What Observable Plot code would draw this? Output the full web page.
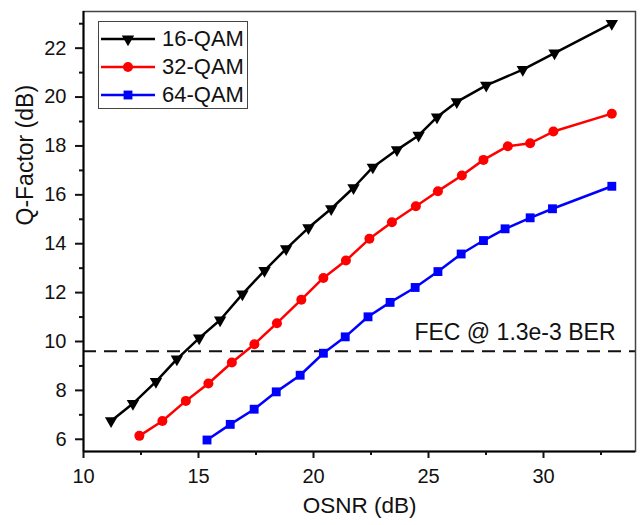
<!DOCTYPE html>
<html>
<head>
<meta charset="utf-8">
<script src="https://cdn.jsdelivr.net/npm/d3@7"></script>
<script src="https://cdn.jsdelivr.net/npm/@observablehq/plot@0.6"></script>
<style>
  html, body { margin: 0; padding: 0; background: #fff; }
  #wrap { position: relative; width: 643px; height: 525px; font-family: "Liberation Sans", Arial, sans-serif; }
  #legend { position: absolute; left: 98px; top: 21px; width: 148px; height: 86px; border: 1.5px solid #444; background: #fff; }
  .row { position: absolute; left: 0; height: 28px; display: flex; align-items: center; }
  .row span { font-size: 22px; color: #111; margin-left: 5px; line-height: 1; }
</style>
</head>
<body>
<div id="wrap"></div>
<script>
const seriesNames = ["16-QAM", "32-QAM", "64-QAM"];
const seriesColors = ["#000000", "#ff0000", "#0000ff"];
const seriesSymbols = ["triangle", "circle", "square"];

const osnr16 = [11.2, 12.15, 13.15, 14.06, 15.03, 15.94, 16.91, 17.87, 18.81, 19.78, 20.77, 21.74, 22.58, 23.63, 24.57, 25.37, 26.23, 27.51, 29.10, 30.48, 32.97];
const q16 = [6.75, 7.46, 8.36, 9.28, 10.14, 10.88, 11.94, 12.90, 13.79, 14.65, 15.43, 16.29, 17.13, 17.84, 18.43, 19.18, 19.80, 20.48, 21.12, 21.80, 23.01];

const osnr32 = [12.43, 13.43, 14.45, 15.43, 16.45, 17.43, 18.41, 19.47, 20.43, 21.41, 22.43, 23.41, 24.45, 25.41, 26.45, 27.39, 28.45, 29.42, 30.43, 32.97];
const q32 = [6.14, 6.75, 7.57, 8.28, 9.14, 9.89, 10.75, 11.71, 12.60, 13.31, 14.20, 14.88, 15.53, 16.15, 16.79, 17.43, 17.99, 18.11, 18.59, 19.32];

const osnr64 = [15.37, 16.38, 17.42, 18.38, 19.42, 20.43, 21.38, 22.37, 23.33, 24.42, 25.41, 26.42, 27.39, 28.33, 29.42, 30.39, 32.97];
const q64 = [5.97, 6.61, 7.23, 7.94, 8.62, 9.52, 10.19, 11.01, 11.60, 12.21, 12.86, 13.58, 14.13, 14.61, 15.06, 15.43, 16.35];

const fecLevel = 9.6;
const fecLabel = "FEC @ 1.3e-3 BER";
const xLabel = "OSNR (dB)";
const yLabel = "Q-Factor (dB)";

const xDomain = [10, 34];
const yDomain = [5.5, 23.5];
const xTicks = [10, 15, 20, 25, 30];
const xMinor = [12.5, 17.5, 22.5, 27.5, 32.5];
const yTicks = [6, 8, 10, 12, 14, 16, 18, 20, 22];
const yMinor = [7, 9, 11, 13, 15, 17, 19, 21, 23];

const allX = [osnr16, osnr32, osnr64];
const allY = [q16, q32, q64];
const series = seriesNames.map((name, i) => allX[i].map((x, j) => ({name, x, y: allY[i][j]})));

const font = '"Liberation Sans", Arial, sans-serif';
const marks = [];
marks.push(Plot.ruleY([fecLevel], {stroke: "#111", strokeWidth: 2, strokeDasharray: "13,8"}));
marks.push(Plot.text([fecLabel], {frameAnchor: "right", y: () => fecLevel, dx: -20, dy: -19, textAnchor: "end", fontSize: 23, fill: "#111"}));
series.forEach((d, i) => {
  marks.push(Plot.line(d, {x: "x", y: "y", stroke: seriesColors[i], strokeWidth: 2.5}));
  marks.push(Plot.dot(d, {x: "x", y: "y", fill: seriesColors[i], stroke: "none",
    symbol: seriesSymbols[i], r: i === 0 ? 4.6 : 5,
    rotate: i === 0 ? 180 : 0}));
});
marks.push(Plot.frame({stroke: "#444", strokeWidth: 1.5}));
marks.push(Plot.ruleX([xDomain[0]], {stroke: "#000", strokeWidth: 2}));
marks.push(Plot.ruleY([yDomain[0]], {stroke: "#000", strokeWidth: 2}));
marks.push(Plot.axisX(xTicks, {tickSize: 7, tickPadding: 10, strokeWidth: 2, fontSize: 20, label: null, tickFormat: d => String(d)}));
marks.push(Plot.axisX(xMinor, {tickSize: 4, strokeWidth: 2, text: null, label: null}));
marks.push(Plot.axisY(yTicks, {tickSize: 8, tickPadding: 9, strokeWidth: 2, fontSize: 20, label: null, tickFormat: d => String(d)}));
marks.push(Plot.axisY(yMinor, {tickSize: 4, strokeWidth: 2, text: null, label: null}));
marks.push(Plot.text([xLabel], {frameAnchor: "bottom", dy: 61, fontSize: 22.5, fill: "#111"}));
marks.push(Plot.text([yLabel], {frameAnchor: "left", dx: -58, dy: -6, rotate: -90, fontSize: 23, fill: "#111"}));

const chart = Plot.plot({
  width: 643,
  height: 525,
  marginLeft: 83,
  marginRight: 8,
  marginTop: 11,
  marginBottom: 74,
  x: {domain: xDomain},
  y: {domain: yDomain},
  style: {fontFamily: font, fontSize: "20px", color: "#111", background: "#fff"},
  marks
});
const wrap = document.getElementById("wrap");
wrap.appendChild(chart);

// legend overlay
const legend = document.createElement("div");
legend.id = "legend";
const symPath = {
  triangle: d3.symbol(d3.symbolTriangle, Math.PI * 4.6 * 4.6)(),
  circle: d3.symbol(d3.symbolCircle, Math.PI * 5 * 5)(),
  square: d3.symbol(d3.symbolSquare, Math.PI * 5 * 5)()
};
seriesNames.forEach((name, i) => {
  const row = document.createElement("div");
  row.className = "row";
  row.style.top = (2.5 + i * 28.3) + "px";
  const svgNS = "http://www.w3.org/2000/svg";
  const svg = document.createElementNS(svgNS, "svg");
  svg.setAttribute("width", 58);
  svg.setAttribute("height", 28);
  const line = document.createElementNS(svgNS, "line");
  line.setAttribute("x1", 2); line.setAttribute("x2", 56);
  line.setAttribute("y1", 14); line.setAttribute("y2", 14);
  line.setAttribute("stroke", seriesColors[i]); line.setAttribute("stroke-width", 2.5);
  svg.appendChild(line);
  const p = document.createElementNS(svgNS, "path");
  p.setAttribute("d", symPath[seriesSymbols[i]]);
  p.setAttribute("fill", seriesColors[i]);
  p.setAttribute("transform", `translate(29,14) rotate(${i === 0 ? 180 : 0})`);
  svg.appendChild(p);
  row.appendChild(svg);
  const t = document.createElement("span");
  t.textContent = name;
  row.appendChild(t);
  legend.appendChild(row);
});
wrap.appendChild(legend);
</script>
</body>
</html>
